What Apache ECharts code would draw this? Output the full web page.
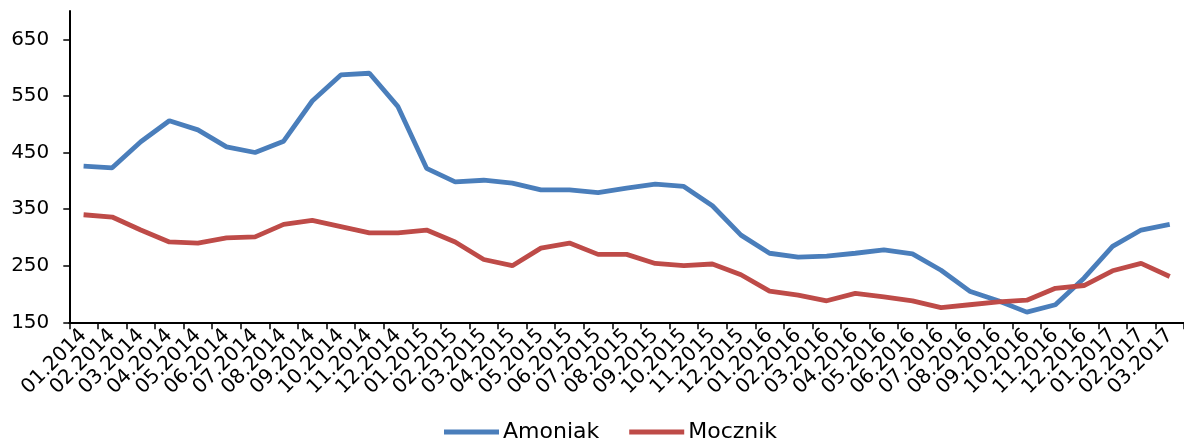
<!DOCTYPE html>
<html>
<head>
<meta charset="utf-8">
<script src="https://cdn.jsdelivr.net/npm/echarts@6/dist/echarts.min.js"></script>
<style>html,body{margin:0;padding:0;background:#fff;}#c{width:1184px;height:446px;}</style>
</head>
<body>
<div id="c"></div>
<script>
const categories = ['01.2014','02.2014','03.2014','04.2014','05.2014','06.2014','07.2014','08.2014','09.2014','10.2014','11.2014','12.2014',
  '01.2015','02.2015','03.2015','04.2015','05.2015','06.2015','07.2015','08.2015','09.2015','10.2015','11.2015','12.2015',
  '01.2016','02.2016','03.2016','04.2016','05.2016','06.2016','07.2016','08.2016','09.2016','10.2016','11.2016','12.2016',
  '01.2017','02.2017','03.2017'];
const amoniak = [426, 423, 469, 506, 490, 460, 450, 470, 541, 587, 590, 531, 422, 398, 401, 396, 384, 384, 379, 387, 394, 390, 356, 304, 272, 265, 267, 272, 278, 271, 242, 205, 188, 168, 181, 228, 284, 313, 323];
const mocznik = [340, 336, 313, 292, 290, 299, 301, 323, 330, 319, 308, 308, 313, 292, 261, 250, 281, 290, 270, 270, 254, 250, 253, 234, 205, 198, 188, 201, 195, 188, 176, 181, 186, 189, 210, 215, 241, 254, 231];
const yTicks = [150, 250, 350, 450, 550, 650];

const FONT = 'DejaVu Sans';
const chart = echarts.init(document.getElementById('c'), null, {renderer: 'canvas'});
chart.setOption({
  animation: false,
  backgroundColor: '#ffffff',
  grid: {left: 69.3, right: -8.5, top: 11, bottom: 123.7},
  legend: {
    left: 444, top: 421, padding: 0,
    icon: 'rect', itemWidth: 55, itemHeight: 5, itemGap: 30,
    textStyle: {fontFamily: FONT, fontSize: 22, color: '#000', padding: [0,0,0,-1]},
    data: ['Amoniak', 'Mocznik']
  },
  xAxis: {
    type: 'category',
    data: categories,
    boundaryGap: true,
    axisLine: {lineStyle: {color: '#000', width: 2}},
    axisTick: {show: true, inside: false, length: 7, alignWithLabel: false, interval: 0, lineStyle: {color: '#000', width: 1.5}},
    axisLabel: {interval: 0, rotate: 45, margin: 10, fontFamily: FONT, fontSize: 20, color: '#000'},
    splitLine: {show: false}
  },
  yAxis: {
    type: 'value',
    min: 150, max: 700, interval: 100,
    axisLine: {show: true, lineStyle: {color: '#000', width: 2}},
    axisTick: {show: true, length: 6, customValues: yTicks, lineStyle: {color: '#000', width: 1.5}},
    axisLabel: {customValues: yTicks, margin: 20, fontFamily: FONT, fontSize: 20, color: '#000'},
    splitLine: {show: false}
  },
  series: [
    {name: 'Amoniak', type: 'line', data: amoniak, symbol: 'none', lineStyle: {width: 4.8, color: '#4A7EBB'}, itemStyle: {color: '#4A7EBB'}},
    {name: 'Mocznik', type: 'line', data: mocznik, symbol: 'none', lineStyle: {width: 4.8, color: '#BE4B48'}, itemStyle: {color: '#BE4B48'}}
  ]
});
</script>
</body>
</html>
